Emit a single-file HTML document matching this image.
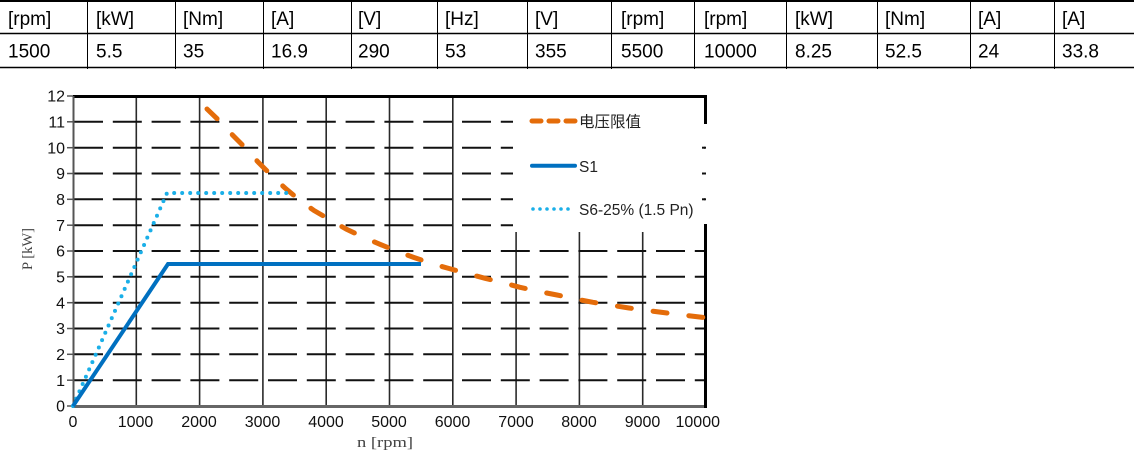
<!DOCTYPE html>
<html>
<head>
<meta charset="utf-8">
<style>
  html, body { margin: 0; padding: 0; background: #fff; }
  body { width: 1134px; height: 463px; overflow: hidden; }
  svg { display: block; }
  .t { font-family: "Liberation Sans", Arial, sans-serif; font-size: 19px; fill: #000; }
  .ax { font-family: "Liberation Sans", Arial, sans-serif; font-size: 16px; fill: #111; }
  .lg { font-family: "Liberation Sans", "Noto Sans CJK SC", sans-serif; font-size: 15.5px; fill: #222; }
  .tt { font-family: "Liberation Serif", "Noto Serif CJK SC", serif; font-size: 15px; fill: #444; }
</style>
</head>
<body>
<svg width="1134" height="463" viewBox="0 0 1134 463" xmlns="http://www.w3.org/2000/svg">
  <!-- TABLE -->
  <rect x="0" y="0" width="1134" height="2" fill="#000"/>
  <line x1="0" y1="33.5" x2="1134" y2="33.5" stroke="#000" stroke-width="1.5"/>
  <line x1="0" y1="67.5" x2="1134" y2="67.5" stroke="#000" stroke-width="1.5"/>
  <g stroke="#000" stroke-width="1">
    <line x1="87.5" y1="0" x2="87.5" y2="69"/>
    <line x1="175.5" y1="0" x2="175.5" y2="69"/>
    <line x1="263.5" y1="0" x2="263.5" y2="69"/>
    <line x1="351.5" y1="0" x2="351.5" y2="69"/>
    <line x1="437.5" y1="0" x2="437.5" y2="69"/>
    <line x1="527.5" y1="0" x2="527.5" y2="69"/>
    <line x1="611.5" y1="0" x2="611.5" y2="69"/>
    <line x1="694.5" y1="0" x2="694.5" y2="69"/>
    <line x1="786.5" y1="0" x2="786.5" y2="69"/>
    <line x1="877.5" y1="0" x2="877.5" y2="69"/>
    <line x1="970.5" y1="0" x2="970.5" y2="69"/>
    <line x1="1054.5" y1="0" x2="1054.5" y2="69"/>
  </g>
  <g class="t">
    <text x="8" y="25">[rpm]</text>
    <text x="96" y="25">[kW]</text>
    <text x="183" y="25">[Nm]</text>
    <text x="271" y="25">[A]</text>
    <text x="358" y="25">[V]</text>
    <text x="445" y="25">[Hz]</text>
    <text x="535" y="25">[V]</text>
    <text x="621" y="25">[rpm]</text>
    <text x="704" y="25">[rpm]</text>
    <text x="795" y="25">[kW]</text>
    <text x="885" y="25">[Nm]</text>
    <text x="978" y="25">[A]</text>
    <text x="1062" y="25">[A]</text>

    <text x="8" y="57.5">1500</text>
    <text x="96" y="57.5">5.5</text>
    <text x="183" y="57.5">35</text>
    <text x="271" y="57.5">16.9</text>
    <text x="358" y="57.5">290</text>
    <text x="445" y="57.5">53</text>
    <text x="535" y="57.5">355</text>
    <text x="621" y="57.5">5500</text>
    <text x="704" y="57.5">10000</text>
    <text x="795" y="57.5">8.25</text>
    <text x="885" y="57.5">52.5</text>
    <text x="978" y="57.5">24</text>
    <text x="1062" y="57.5">33.8</text>
  </g>

  <!-- CHART -->
  <g stroke="#2a2a2a" stroke-width="1.6">
    <line x1="136.3" y1="97" x2="136.3" y2="406"/>
    <line x1="199.6" y1="97" x2="199.6" y2="406"/>
    <line x1="262.9" y1="97" x2="262.9" y2="406"/>
    <line x1="326.2" y1="97" x2="326.2" y2="406"/>
    <line x1="389.5" y1="97" x2="389.5" y2="406"/>
    <line x1="452.8" y1="97" x2="452.8" y2="406"/>
    <line x1="516.1" y1="97" x2="516.1" y2="406"/>
    <line x1="579.4" y1="97" x2="579.4" y2="406"/>
    <line x1="642.7" y1="97" x2="642.7" y2="406"/>
  </g>
  <g stroke="#111" stroke-width="2" stroke-dasharray="29 9.8">
    <line x1="74" y1="380.2" x2="705" y2="380.2"/>
    <line x1="74" y1="354.3" x2="705" y2="354.3"/>
    <line x1="74" y1="328.5" x2="705" y2="328.5"/>
    <line x1="74" y1="302.7" x2="705" y2="302.7"/>
    <line x1="74" y1="276.8" x2="705" y2="276.8"/>
    <line x1="74" y1="251.0" x2="705" y2="251.0"/>
    <line x1="74" y1="225.2" x2="705" y2="225.2"/>
    <line x1="74" y1="199.3" x2="705" y2="199.3"/>
    <line x1="74" y1="173.5" x2="705" y2="173.5"/>
    <line x1="74" y1="147.7" x2="705" y2="147.7"/>
    <line x1="74" y1="121.8" x2="705" y2="121.8"/>
  </g>
  <g stroke="#555" stroke-width="1.5">
    <line x1="67" y1="406" x2="73" y2="406"/>
    <line x1="67" y1="380.2" x2="73" y2="380.2"/>
    <line x1="67" y1="354.3" x2="73" y2="354.3"/>
    <line x1="67" y1="328.5" x2="73" y2="328.5"/>
    <line x1="67" y1="302.7" x2="73" y2="302.7"/>
    <line x1="67" y1="276.8" x2="73" y2="276.8"/>
    <line x1="67" y1="251.0" x2="73" y2="251.0"/>
    <line x1="67" y1="225.2" x2="73" y2="225.2"/>
    <line x1="67" y1="199.3" x2="73" y2="199.3"/>
    <line x1="67" y1="173.5" x2="73" y2="173.5"/>
    <line x1="67" y1="147.7" x2="73" y2="147.7"/>
    <line x1="67" y1="121.8" x2="73" y2="121.8"/>
    <line x1="67" y1="96" x2="73" y2="96"/>
  </g>

  <rect x="513" y="98" width="191" height="134" fill="#fff"/>

  <line x1="73" y1="96.5" x2="707" y2="96.5" stroke="#000" stroke-width="3"/>
  <line x1="73.5" y1="96" x2="73.5" y2="407" stroke="#555" stroke-width="2"/>
  <line x1="72" y1="406.5" x2="707" y2="406.5" stroke="#666" stroke-width="3"/>
  <line x1="705.5" y1="95" x2="705.5" y2="124" stroke="#000" stroke-width="3"/>
  <line x1="705.5" y1="224" x2="705.5" y2="408" stroke="#000" stroke-width="3"/>
  <g stroke="#111" stroke-width="2">
    <line x1="702" y1="147.7" x2="706" y2="147.7"/>
    <line x1="702" y1="173.5" x2="706" y2="173.5"/>
    <line x1="702" y1="199.3" x2="706" y2="199.3"/>
  </g>

  <path d="M207,109 L221,122.5 L233,135.5 L247,149.5 L258,162 L272,176 L285,188 L300,200.5 L314,210.5 L332,221 L346,229 L363,237 L380,244.3 L398,251.7 L414,257.5 L433,264 L449,268.5 L469,274 L485,278.3 L505,283.3 L520,287.3 L540,291.7 L557,295 L577,299.3 L593,302.3 L613,305.5 L629,308 L649,310.7 L667,313 L687,315.5 L704,317.5"
        fill="none" stroke="#E46C0A" stroke-width="5" stroke-linecap="round" stroke-linejoin="round" stroke-dasharray="14 22"/>
  <path d="M73,406 L167,193 L292,193" fill="none" stroke="#1AAFE8" stroke-width="4" stroke-linecap="round" stroke-dasharray="0 8"/>
  <path d="M73,406 L168,264 L421,264" fill="none" stroke="#0070C0" stroke-width="4" stroke-linejoin="miter"/>

  <path d="M532,121 L575,121" stroke="#E46C0A" stroke-width="5" stroke-linecap="round" stroke-dasharray="9 8"/>
  <text class="lg" x="579" y="127">电压限值</text>
  <line x1="532" y1="165.7" x2="575" y2="165.7" stroke="#0070C0" stroke-width="4" stroke-linecap="round"/>
  <text class="lg" x="579" y="172">S1</text>
  <path d="M533,209 L575,209" stroke="#1AAFE8" stroke-width="3.6" stroke-linecap="round" stroke-dasharray="0 7"/>
  <text class="lg" x="579" y="215">S6-25% (1.5 Pn)</text>

  <g class="ax" text-anchor="end">
    <text x="65" y="411.7">0</text>
    <text x="65" y="385.9">1</text>
    <text x="65" y="360">2</text>
    <text x="65" y="334.2">3</text>
    <text x="65" y="308.4">4</text>
    <text x="65" y="282.5">5</text>
    <text x="65" y="256.7">6</text>
    <text x="65" y="230.9">7</text>
    <text x="65" y="205">8</text>
    <text x="65" y="179.2">9</text>
    <text x="65" y="153.4">10</text>
    <text x="65" y="127.5">11</text>
    <text x="65" y="101.7">12</text>
  </g>
  <g class="ax" text-anchor="middle">
    <text x="73" y="427">0</text>
    <text x="135.5" y="427">1000</text>
    <text x="199" y="427">2000</text>
    <text x="262.5" y="427">3000</text>
    <text x="326" y="427">4000</text>
    <text x="389" y="427">5000</text>
    <text x="452.5" y="427">6000</text>
    <text x="516" y="427">7000</text>
    <text x="579" y="427">8000</text>
    <text x="642.5" y="427">9000</text>
  </g>
  <text class="ax" x="720" y="427" text-anchor="end">10000</text>

  <text class="tt" x="385" y="447" text-anchor="middle" textLength="56" lengthAdjust="spacingAndGlyphs">n [rpm]</text>
  <text class="tt" transform="translate(32,249) rotate(-90)" text-anchor="middle" textLength="42" lengthAdjust="spacingAndGlyphs">P [kW]</text>
</svg>
</body>
</html>
